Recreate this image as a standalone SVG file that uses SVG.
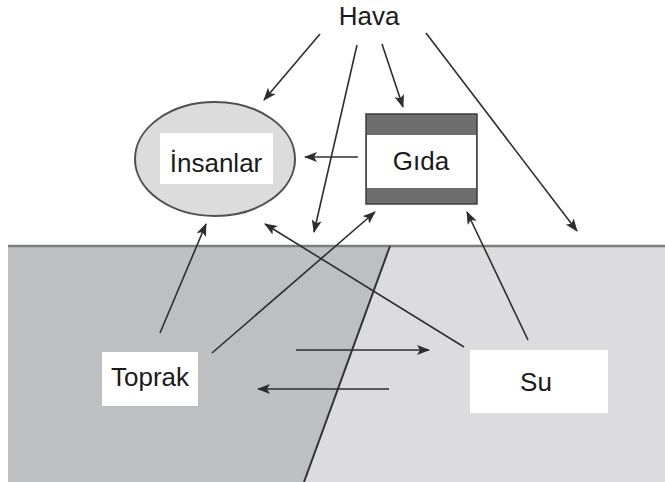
<svg xmlns="http://www.w3.org/2000/svg" width="665" height="482" viewBox="0 0 665 482">
<style>
.lbl{font-family:"Liberation Sans",Arial,sans-serif;font-size:26px;fill:#1a1a1a;text-anchor:middle}
.c{stroke:#2e2e2e;stroke-width:1.6;fill:none;marker-end:url(#ah)}
.box{fill:#fff}
</style>
<defs>
<marker id="ah" viewBox="0 0 13 10" refX="12" refY="5" markerWidth="13" markerHeight="10" markerUnits="userSpaceOnUse" orient="auto">
<path d="M0,0 L13,5 L0,10 L3,5 Z" fill="#2e2e2e"/>
</marker>
</defs>
<rect width="665" height="482" fill="#fff"/>
<g id="ground">
<polygon points="8,246 390,246 304,482 8,482" fill="#bebfc3"/>
<polygon points="390,246 665,246 665,482 304,482" fill="#dcdcde"/>
<line x1="8" y1="246" x2="665" y2="246" stroke="#7d7d7d" stroke-width="2.5"/>
<line x1="390" y1="246" x2="304" y2="482" stroke="#333" stroke-width="2"/>
</g>
<g id="connectors">
<line class="c" x1="320" y1="34" x2="264" y2="100"/>
<line class="c" x1="357" y1="45" x2="314" y2="232"/>
<line class="c" x1="382" y1="44" x2="403" y2="107"/>
<line class="c" x1="426" y1="33" x2="577" y2="231"/>
<line class="c" x1="358" y1="157" x2="305" y2="157"/>
<line class="c" x1="160" y1="333" x2="206" y2="224"/>
<line class="c" x1="212" y1="353" x2="375" y2="212"/>
<line class="c" x1="464" y1="347" x2="265" y2="224"/>
<line class="c" x1="528" y1="340" x2="467" y2="212"/>
<line class="c" x1="296" y1="350" x2="429" y2="350"/>
<line class="c" x1="389" y1="389" x2="258" y2="389"/>
</g>
<g id="hava">
<text class="lbl" x="369" y="25">Hava</text>
</g>
<g id="insanlar">
<ellipse cx="215" cy="159" rx="80" ry="57" fill="#dcdcdc" stroke="#505050" stroke-width="2"/>
<rect class="box" x="160" y="133" width="113" height="51"/>
<text class="lbl" x="216" y="172">İnsanlar</text>
</g>
<g id="gida">
<rect x="366" y="114" width="111" height="90" fill="#6e6e6e" stroke="#3c3c3c" stroke-width="1.5"/>
<rect class="box" x="367" y="135" width="109" height="53"/>
<text class="lbl" x="421" y="170">Gıda</text>
</g>
<g id="toprak">
<rect class="box" x="102" y="352" width="96" height="54"/>
<text class="lbl" x="150" y="386">Toprak</text>
</g>
<g id="su">
<rect class="box" x="470" y="350" width="138" height="63"/>
<text class="lbl" x="536" y="391">Su</text>
</g>
</svg>
